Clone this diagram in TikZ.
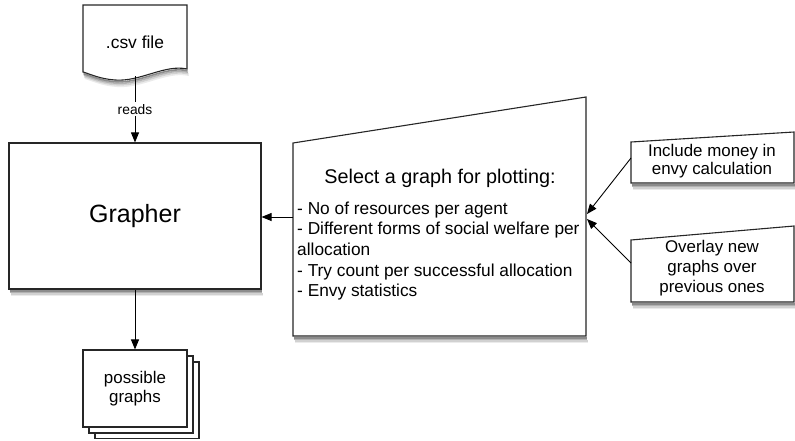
\documentclass[tikz,border=0pt]{standalone}
\usepackage{fontspec}
\setmainfont{Liberation Sans}
\usetikzlibrary{arrows.meta}
% shadow under a horizontal bottom edge from x=#1 to x=#2 at height #3
\newcommand{\edgeshade}[3]{%
  \draw[black!8, line width=1.6pt] ({#1+2},{#3+6.2}) -- ({#2+2},{#3+6.2});
  \draw[black!18,line width=1.6pt] ({#1+1.5},{#3+4.7}) -- ({#2+1.5},{#3+4.7});
  \draw[black!30,line width=1.6pt] ({#1+1},{#3+3.2}) -- ({#2+1},{#3+3.2});
  \draw[black!45,line width=1.6pt] ({#1+0.5},{#3+1.7}) -- ({#2+0.5},{#3+1.7});}
% shadow under the wavy bottom of the document shape, moved down by #1
\newcommand{\waveshade}[2]{%
  \draw[#2,line width=1.6pt] ({187+0.3*#1},{69+#1})
    .. controls ({165+0.3*#1},{64+#1}) and ({140+0.3*#1},{82+#1}) .. ({115+0.3*#1},{80+#1})
    .. controls ({100+0.3*#1},{79+#1}) and ({90+0.3*#1},{74+#1}) .. ({83+0.3*#1},{72+#1});}
\begin{document}
\begin{tikzpicture}[x=1pt,y=-1pt,
  outline/.style={draw=black!85,line width=1.1pt,fill=white},
  link/.style={draw=black,line width=0.9pt,-{Triangle[length=10pt,width=8pt]}},
  label/.style={inner sep=0pt,align=center},
]
\useasboundingbox (0,0) rectangle (795,440);

% input document
\waveshade{6.2}{black!8}
\waveshade{4.7}{black!18}
\waveshade{3.2}{black!30}
\waveshade{1.7}{black!45}
\path[outline] (83,5) -- (187,5) -- (187,69)
  .. controls (165,64) and (140,82) .. (115,80)
  .. controls (100,79) and (90,74) .. (83,72) -- cycle;
\node[label,font=\fontsize{17.4}{20}\selectfont] (csv) at (135,42) {.csv file};
\coordinate (csvb) at (135,76);

% main component
\edgeshade{9}{261}{289}
\node[outline,minimum width=252pt,minimum height=146pt,inner sep=0pt,
  font=\fontsize{25}{30}\selectfont] (grapher) at (135,216) {Grapher};

% graph selection (manual input)
\edgeshade{293}{586}{336}
\path[outline] (293,143) -- (586,97) -- (586,336) -- (293,336) -- cycle;
\node[label,font=\fontsize{19.8}{24}\selectfont] (seltitle) at (440,178)
  {Select a graph for plotting:};
\node[label,align=left,anchor=west,font=\fontsize{17.3}{20.7}\selectfont] (sellist) at (297,251)
  {- No of resources per agent\\
   - Different forms of social welfare per\\
   allocation\\
   - Try count per successful allocation\\
   - Envy statistics};
\coordinate (selL) at (293,217);
\coordinate (selR1) at (587,214);
\coordinate (selR2) at (587,219);

% options
\edgeshade{631}{794}{183}
\path[outline] (631,142) -- (794,132) -- (794,183) -- (631,183) -- cycle;
\node[label,font=\fontsize{16.9}{18.5}\selectfont] (money) at (712,161)
  {Include money in\\envy calculation};
\edgeshade{631}{794}{302}
\path[outline] (631,240) -- (794,226) -- (794,302) -- (631,302) -- cycle;
\node[label,font=\fontsize{16.9}{20}\selectfont] (overlay) at (712,268)
  {Overlay new\\graphs over\\previous ones};
\coordinate (moneyL) at (631,158);
\coordinate (overlayL) at (631,263);

% output stack
\draw[outline] (95,362) rectangle (199,438.5);
\draw[outline] (89,356) rectangle (193,433);
\node[outline,minimum width=104pt,minimum height=77pt,inner sep=0pt,
  font=\fontsize{16.9}{19}\selectfont,align=center] (graphs) at (135,388.5)
  {possible\\graphs};

% connectors
\draw[link] (csvb) -- node[fill=white,inner sep=2pt,font=\fontsize{13.8}{16}\selectfont] (reads) {reads} (grapher.north);
\draw[link] (selL) -- (grapher.east |- selL);
\draw[link] (moneyL) -- (selR1);
\draw[link] (overlayL) -- (selR2);
\draw[link] (grapher.south) -- (graphs.north);
\end{tikzpicture}
\end{document}
